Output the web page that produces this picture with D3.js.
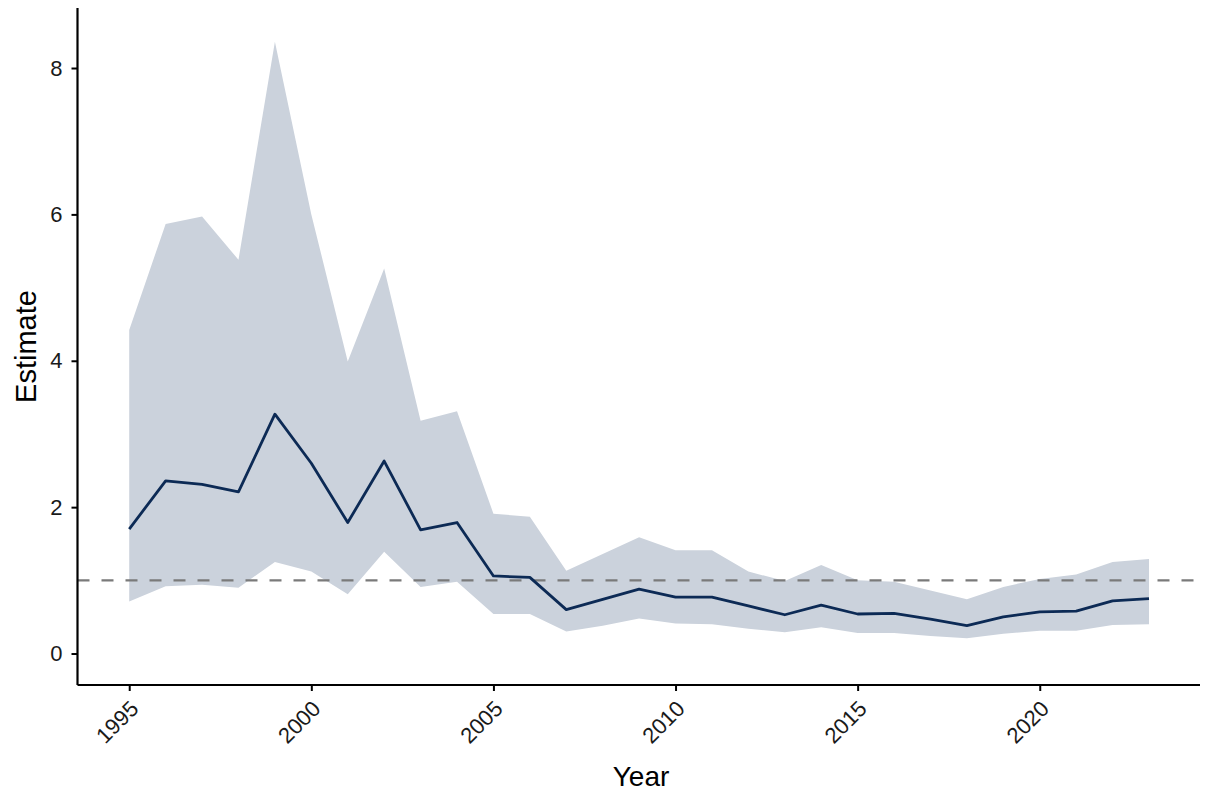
<!DOCTYPE html>
<html>
<head>
<meta charset="utf-8">
<script src="https://cdn.jsdelivr.net/npm/d3@7"></script>
<style>
  body { margin: 0; background: #fff; }
  svg { display: block; font-family: "Liberation Sans", Arial, Helvetica, sans-serif; }
</style>
</head>
<body>
<svg id="chart" width="1207" height="795"></svg>
<script>
const years = [1995,1996,1997,1998,1999,2000,2001,2002,2003,2004,2005,2006,2007,2008,2009,2010,2011,2012,2013,2014,2015,2016,2017,2018,2019,2020,2021,2022,2023];
const estimate = [1.70,2.36,2.31,2.21,3.27,2.60,1.79,2.63,1.69,1.79,1.06,1.04,0.60,0.74,0.88,0.77,0.77,0.65,0.53,0.66,0.54,0.55,0.47,0.38,0.50,0.57,0.58,0.72,0.75];
const upper = [4.42,5.87,5.97,5.38,8.36,6.00,3.99,5.26,3.18,3.31,1.91,1.87,1.13,1.36,1.59,1.41,1.41,1.12,0.99,1.21,1.00,0.98,0.86,0.74,0.91,1.02,1.08,1.25,1.29];
const lower = [0.71,0.92,0.94,0.90,1.25,1.12,0.81,1.39,0.91,0.98,0.54,0.54,0.30,0.38,0.48,0.41,0.40,0.34,0.29,0.36,0.28,0.28,0.24,0.21,0.27,0.31,0.31,0.39,0.40];
const xTicks = [1995,2000,2005,2010,2015,2020];
const yTicks = [0,2,4,6,8];
const refLine = 1;

(function () {
const svg = d3.select("#chart");
const mLeft = 77.5, mRight = 1200, mTop = 8, mBottom = 685;

const x = d3.scaleLinear().domain([1993.58, 2024.4]).range([mLeft, mRight]);
const y = d3.scaleLinear().domain([-0.43, 8.82]).range([mBottom, mTop]);

const data = years.map((yr, i) => ({yr, est: estimate[i], lo: lower[i], hi: upper[i]}));

svg.append("path")
  .datum(data)
  .attr("fill", "#cbd2dc")
  .attr("d", d3.area().x(d => x(d.yr)).y0(d => y(d.lo)).y1(d => y(d.hi)));

svg.append("line")
  .attr("x1", mLeft).attr("x2", mRight)
  .attr("y1", y(refLine)).attr("y2", y(refLine))
  .attr("stroke", "#7a7a7a").attr("stroke-width", 2.2)
  .attr("stroke-dasharray", "12,12");

svg.append("path")
  .datum(data)
  .attr("fill", "none")
  .attr("stroke", "#0c2a55")
  .attr("stroke-width", 2.8)
  .attr("stroke-linejoin", "round")
  .attr("d", d3.line().x(d => x(d.yr)).y(d => y(d.est)));

const xAxis = svg.append("g")
  .attr("transform", `translate(0,${mBottom})`)
  .call(d3.axisBottom(x).tickValues(xTicks).tickFormat(d3.format("d")).tickSize(6).tickSizeOuter(0));
xAxis.select(".domain").attr("stroke", "#000").attr("stroke-width", 2.2).attr("d", `M${mLeft},0H${mRight}`);
xAxis.selectAll(".tick line").attr("stroke", "#000").attr("stroke-width", 2);
xAxis.selectAll(".tick text")
  .attr("font-size", 22).attr("fill", "#1a1a1a")
  .attr("text-anchor", "end")
  .attr("dy", null)
  .attr("y", 0).attr("x", 0)
  .attr("transform", "translate(6,21) rotate(-45)")
  .attr("dominant-baseline", "middle");

const yAxis = svg.append("g")
  .attr("transform", `translate(${mLeft},0)`)
  .call(d3.axisLeft(y).tickValues(yTicks).tickFormat(d3.format("d")).tickSize(6).tickSizeOuter(0));
yAxis.select(".domain").attr("stroke", "#000").attr("stroke-width", 2.2).attr("d", `M0,${mTop}V${mBottom}`);
yAxis.selectAll(".tick line").attr("stroke", "#000").attr("stroke-width", 2);
yAxis.selectAll(".tick text").attr("font-size", 22).attr("fill", "#1a1a1a").attr("x", -15);

svg.append("text")
  .attr("x", 641).attr("y", 786)
  .attr("text-anchor", "middle")
  .attr("font-size", 28).attr("fill", "#000")
  .text("Year");

svg.append("text")
  .attr("transform", `translate(36,${(mTop + mBottom) / 2}) rotate(-90)`)
  .attr("text-anchor", "middle")
  .attr("font-size", 29).attr("fill", "#000")
  .text("Estimate");
})();
</script>
</body>
</html>
